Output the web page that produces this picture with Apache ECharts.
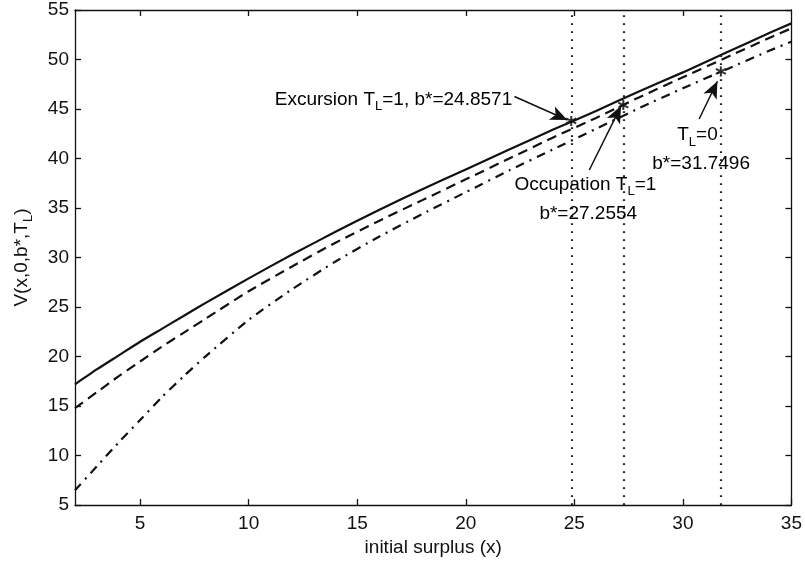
<!DOCTYPE html>
<html>
<head>
<meta charset="utf-8">
<script src="https://cdn.jsdelivr.net/npm/echarts@6/dist/echarts.min.js"></script>
<style>html,body{margin:0;padding:0;background:#fff;}#c{width:805px;height:562px;}</style>
</head>
<body>
<div id="c"></div>
<script>
const xVals = [2,3,4,5,6,7,8,10,12,14,16,18,20,22,24,26,28,30,32,34,35];
const excursion = [17.2,18.7,20.1,21.5,22.8,24.1,25.4,27.9,30.3,32.6,34.8,36.9,38.9,40.9,42.9,44.8,46.8,48.7,50.7,52.7,53.65];
const occupation = [14.8,16.4,18.0,19.5,21.0,22.4,23.8,26.6,29.1,31.5,33.7,35.8,37.9,40.0,42.1,44.1,46.2,48.2,50.2,52.2,53.15];
const tl0 = [6.5,8.9,11.3,13.6,15.9,18.0,20.0,23.7,26.8,29.6,32.1,34.4,36.6,38.8,40.9,43.0,45.1,47.1,49.0,50.9,51.8];
const bStar = [24.8571, 27.2554, 31.7496];
const bStarV = [43.8, 45.4, 48.8];
const xTicks = [5,10,15,20,25,30,35];
const xTopTicks = [5,10,15,20,25,30];

const FONT = "'Liberation Sans', Arial, Helvetica, sans-serif";
const pair = (xs, ys) => xs.map((x, i) => [x, ys[i]]);

const chart = echarts.init(document.getElementById('c'));
const axisCommon = {
  axisLine: { show: true, lineStyle: { color: '#111', width: 1.3 } },
  axisTick: { show: true, inside: true, length: 6, lineStyle: { color: '#111', width: 1.3 } },
  splitLine: { show: false }
};
const richName = {
  n: { fontSize: 19, fontFamily: FONT, color: '#111' },
  s: { fontSize: 13, fontFamily: FONT, color: '#111', padding: [14, 0, 0, 0] }
};

chart.setOption({
  animation: false,
  backgroundColor: '#fff',
  grid: { left: 75, right: 12, top: 10, bottom: 54 },
  xAxis: [
    Object.assign({}, axisCommon, {
      type: 'value', min: 2, max: 35, position: 'bottom',
      axisTick: Object.assign({}, axisCommon.axisTick, { customValues: xTicks }),
      axisLabel: { customValues: xTicks, fontSize: 19, fontFamily: FONT, color: '#111', margin: 9 },
      name: 'initial surplus (x)', nameLocation: 'middle', nameGap: 30,
      nameTextStyle: { fontSize: 19, fontFamily: FONT, color: '#111' }
    }),
    Object.assign({}, axisCommon, {
      type: 'value', min: 2, max: 35, position: 'top',
      axisTick: Object.assign({}, axisCommon.axisTick, { customValues: xTopTicks }),
      axisLabel: { show: false }
    })
  ],
  yAxis: [
    Object.assign({}, axisCommon, {
      type: 'value', min: 5, max: 55, interval: 5, position: 'left',
      axisLabel: { fontSize: 19, fontFamily: FONT, color: '#111', margin: 6 },
      name: '{n|V(x,0,b*,T}{s|L}{n|)}', nameLocation: 'middle', nameGap: 40,
      nameTextStyle: { rich: richName }
    }),
    Object.assign({}, axisCommon, {
      type: 'value', min: 5, max: 55, interval: 5, position: 'right',
      axisLabel: { show: false }
    })
  ],
  series: [
    {
      type: 'line', name: 'Excursion', data: pair(xVals, excursion), symbol: 'none', smooth: 0.2,
      lineStyle: { color: '#111', width: 2.2, type: 'solid' },
      markLine: {
        silent: true, symbol: 'none', label: { show: false },
        lineStyle: { color: '#222', width: 2.2, type: [1.8, 6.2] },
        data: bStar.map(v => ({ xAxis: v }))
      }
    },
    {
      type: 'line', name: 'Occupation', data: pair(xVals, occupation), symbol: 'none', smooth: 0.2,
      lineStyle: { color: '#111', width: 2.2, type: [10, 6] },
      markLine: {
        silent: true, symbol: ['none', 'arrow'], symbolSize: [11, 17], label: { show: false },
        lineStyle: { color: '#111', width: 1.5, type: 'solid' },
        data: [
          [{ coord: [22.24, 46.26] }, { coord: [24.68, 43.89] }],
          [{ coord: [25.69, 38.84] }, { coord: [27.15, 45.3] }],
          [{ coord: [30.75, 43.99] }, { coord: [31.59, 47.8] }]
        ]
      }
    },
    {
      type: 'line', name: 'TL0', data: pair(xVals, tl0), symbol: 'none', smooth: 0.2,
      lineStyle: { color: '#111', width: 2.2, type: [9, 6, 2, 6] }
    },
    {
      type: 'scatter', data: pair(bStar, bStarV),
      symbol: 'path://M0,-5L0,5M-4.33,-2.5L4.33,2.5M-4.33,2.5L4.33,-2.5',
      symbolSize: 10,
      itemStyle: { color: 'none', borderColor: '#000', borderWidth: 2 }
    }
  ]
});

const labels = [
  { at: [11.2, 45.96], text: '{n|Excursion T}{s|L}{n|=1, b*=24.8571}' },
  { at: [22.24, 37.4], text: '{n|Occupation T}{s|L}{n|=1}' },
  { at: [23.39, 34.4], text: '{n|b*=27.2554}' },
  { at: [29.74, 42.35], text: '{n|T}{s|L}{n|=0}' },
  { at: [28.59, 39.44], text: '{n|b*=31.7496}' }
];
chart.setOption({
  graphic: labels.map(l => {
    const p = chart.convertToPixel({ seriesIndex: 0 }, l.at);
    return {
      type: 'text', x: p[0], y: p[1], z: 100,
      style: { text: l.text, rich: richName, align: 'left', verticalAlign: 'middle' }
    };
  })
});
</script>
</body>
</html>
